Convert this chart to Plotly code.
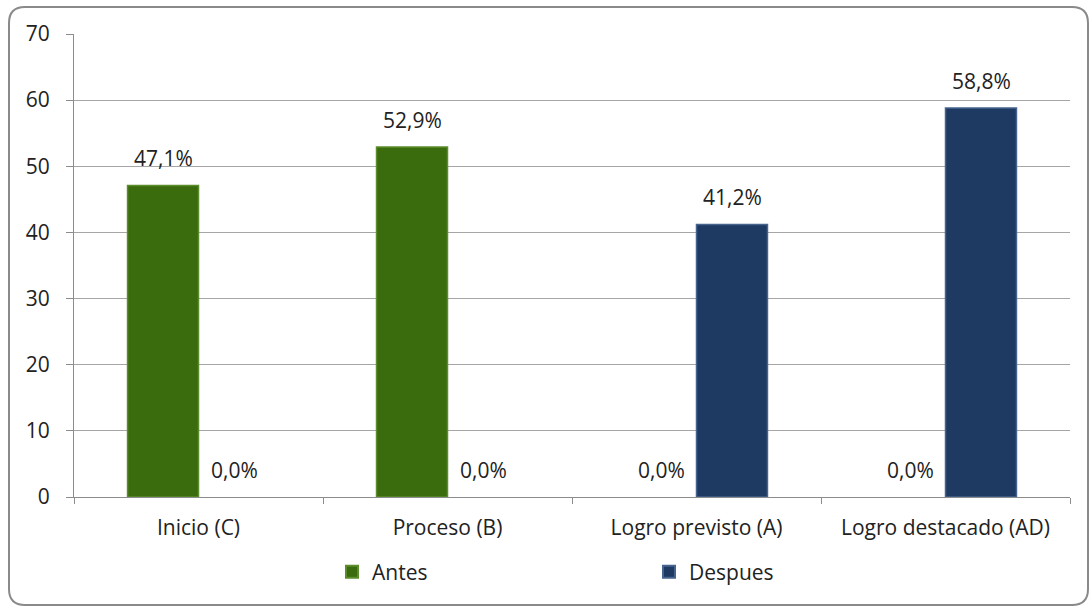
import plotly.graph_objects as go

categories = ["Inicio (C)", "Proceso (B)", "Logro previsto (A)", "Logro destacado (AD)"]
antes = [47.1, 52.9, 0.0, 0.0]
despues = [0.0, 0.0, 41.2, 58.8]
series_names = ["Antes", "Despues"]
y_ticks = [0, 10, 20, 30, 40, 50, 60, 70]

W, H = 1092, 608
ML, MR, MT, MB = 74, 22, 34, 111
PW, PH = W - ML - MR, H - MT - MB

GREEN = "#3a6b0c"
GREEN_EDGE = "#5c8d2c"
BLUE = "#1f3a62"
BLUE_EDGE = "#46648e"
FONT = "'Open Sans', sans-serif"
FS = 21


def px_x(x):
    return (x - ML) / PW


def px_y(y):
    return (H - MB - y) / PH


def fmt(v):
    return f"{v:.1f}%".replace(".", ",")


def edge_widths(vals):
    # outline only bars that have height
    return [1.5 if v > 0 else 0 for v in vals]


fig = go.Figure()
fig.add_trace(go.Bar(x=categories, y=antes, name=series_names[0],
                     marker=dict(color=GREEN, line=dict(color=GREEN_EDGE, width=edge_widths(antes)))))
fig.add_trace(go.Bar(x=categories, y=despues, name=series_names[1],
                     marker=dict(color=BLUE, line=dict(color=BLUE_EDGE, width=edge_widths(despues)))))

# value labels above each bar
bar_px = 71
for vals, shift in ((antes, -bar_px / 2), (despues, bar_px / 2)):
    for cat, v in zip(categories, vals):
        fig.add_annotation(x=cat, y=v, text=fmt(v), showarrow=False,
                           xref="x", yref="y", xshift=shift, yshift=11,
                           yanchor="bottom", font=dict(size=FS, color="#222222", family=FONT))

# rounded chart frame
x0, x1 = px_x(9), px_x(1088)
y0, y1 = px_y(605), px_y(7)
rx, ry = 16 / PW, 16 / PH
path = (f"M {x0 + rx},{y1} L {x1 - rx},{y1} Q {x1},{y1} {x1},{y1 - ry} "
        f"L {x1},{y0 + ry} Q {x1},{y0} {x1 - rx},{y0} L {x0 + rx},{y0} "
        f"Q {x0},{y0} {x0},{y0 + ry} L {x0},{y1 - ry} Q {x0},{y1} {x0 + rx},{y1} Z")
fig.add_shape(type="path", path=path, xref="paper", yref="paper",
              line=dict(color="#8a8a8a", width=2), layer="below")

fig.update_layout(
    width=W, height=H,
    margin=dict(l=ML, r=MR, t=MT, b=MB),
    paper_bgcolor="white", plot_bgcolor="white",
    barmode="group", bargap=0.43, bargroupgap=0,
    font=dict(family=FONT, size=FS, color="#222222"),
    showlegend=True,
    legend=dict(orientation="h", x=px_x(332), xanchor="left", y=px_y(572), yanchor="middle",
                entrywidth=272, entrywidthmode="pixels", itemsizing="constant",
                font=dict(size=FS, family=FONT), tracegroupgap=0, itemwidth=30),
    xaxis=dict(type="category", showline=True, linecolor="#8c8c8c", linewidth=1,
               ticks="outside", tickson="boundaries", ticklen=6, tickcolor="#8c8c8c",
               ticklabelstandoff=12,
               showgrid=False, tickfont=dict(size=FS, family=FONT)),
    yaxis=dict(range=[0, 70], tickvals=y_ticks, showline=True, linecolor="#8c8c8c", linewidth=1,
               ticks="outside", ticklen=7, tickcolor="#8c8c8c", showgrid=True,
               ticklabelstandoff=12,
               gridcolor="#a6a6a6", gridwidth=1, zeroline=False,
               tickfont=dict(size=FS, family=FONT)),
)

fig.write_html("out.html")
